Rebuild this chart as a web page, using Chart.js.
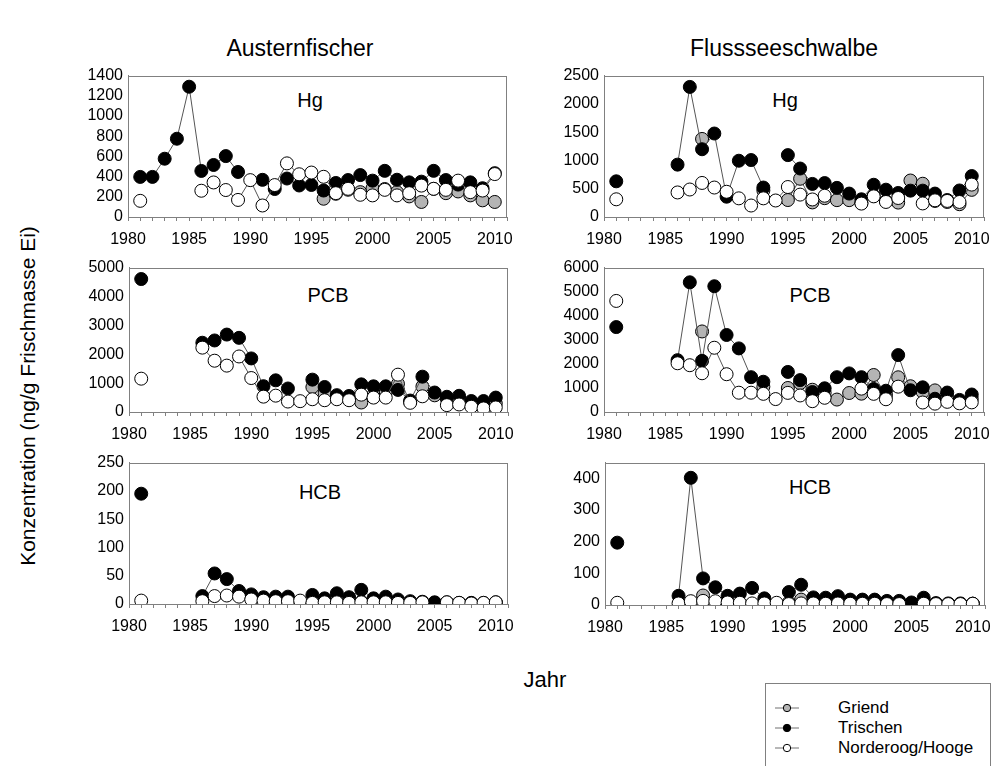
<!DOCTYPE html>
<html>
<head>
<meta charset="utf-8">
<script src="https://cdn.jsdelivr.net/npm/chart.js@4.4.0/dist/chart.umd.min.js"></script>
<style>
  body { margin:0; background:#fff; width:996px; height:766px; position:relative; overflow:hidden;
         font-family:"Liberation Sans", Arial, sans-serif; }
  canvas { position:absolute; }
  .t { position:absolute; color:#000; white-space:nowrap; transform:translate(-50%,-50%); }
  #legend { position:absolute; left:765px; top:683px; width:224px; height:100px;
            border:1px solid #808080; border-bottom:none; }
  .row { position:absolute; left:0; height:20px; font-size:17px; line-height:20px; }
  .row svg { position:absolute; left:9px; top:4px; }
  .row span { position:absolute; left:72px; white-space:nowrap; }
</style>
</head>
<body>

<div class="t" style="left:300px;top:48px;font-size:23px;">Austernfischer</div>
<div class="t" style="left:784px;top:48px;font-size:23px;">Flussseeschwalbe</div>
<div class="t" style="left:28px;top:396px;font-size:21px;transform:translate(-50%,-50%) rotate(-90deg);">Konzentration (ng/g Frischmasse Ei)</div>
<div class="t" style="left:545px;top:680px;font-size:22px;">Jahr</div>

<div class="t" style="left:310px;top:100px;font-size:20px;">Hg</div>
<div class="t" style="left:785px;top:100px;font-size:20px;">Hg</div>
<div class="t" style="left:328px;top:295px;font-size:20px;">PCB</div>
<div class="t" style="left:810px;top:295px;font-size:20px;">PCB</div>
<div class="t" style="left:320px;top:492px;font-size:20px;">HCB</div>
<div class="t" style="left:810px;top:487px;font-size:20px;">HCB</div>

<canvas id="cA"></canvas>
<canvas id="cB"></canvas>
<canvas id="cC"></canvas>
<canvas id="cD"></canvas>
<canvas id="cE"></canvas>
<canvas id="cF"></canvas>

<div id="legend">
  <div class="row" style="top:14px;">
    <svg width="24" height="12"><line x1="0" y1="6" x2="24" y2="6" stroke="#707070" stroke-width="1"/><circle cx="12" cy="6" r="3.7" fill="#b4b4b4" stroke="#000" stroke-width="1"/></svg>
    <span>Griend</span>
  </div>
  <div class="row" style="top:34px;">
    <svg width="24" height="12"><line x1="0" y1="6" x2="24" y2="6" stroke="#707070" stroke-width="1"/><circle cx="12" cy="6" r="3.7" fill="#000" stroke="#000" stroke-width="1"/></svg>
    <span>Trischen</span>
  </div>
  <div class="row" style="top:54px;">
    <svg width="24" height="12"><line x1="0" y1="6" x2="24" y2="6" stroke="#707070" stroke-width="1"/><circle cx="12" cy="6" r="3.7" fill="#fff" stroke="#000" stroke-width="1"/></svg>
    <span>Norderoog/Hooge</span>
  </div>
</div>

<script>
// Jahre 1981-2010 (null = keine Probe)
const years = [1981,1982,1983,1984,1985,1986,1987,1988,1989,1990,
               1991,1992,1993,1994,1995,1996,1997,1998,1999,2000,
               2001,2002,2003,2004,2005,2006,2007,2008,2009,2010];
const n = null;

// Austernfischer Hg
const hgAusTrischen = [397,397,577,775,1290,456,515,603,446,n,368,277,381,312,317,262,337,366,415,360,457,369,343,350,457,366,321,343,285,434];
const hgAusGriend   = [n,n,n,n,n,n,n,n,n,n,n,n,n,n,n,181,230,270,246,285,277,246,204,149,279,236,253,214,165,149];
const hgAusNorder   = [160,n,n,n,n,260,342,267,169,365,114,316,531,423,440,398,236,279,220,214,269,214,236,311,279,269,360,246,262,425];

// Flussseeschwalbe Hg
const hgFluTrischen = [631,n,n,n,n,926,2300,1198,1476,359,995,1007,521,n,1094,857,585,600,515,414,313,570,483,425,466,466,414,300,469,724];
const hgFluGriend   = [n,n,n,n,n,n,n,1380,n,n,n,n,470,n,300,676,258,333,298,298,250,380,280,255,645,588,284,266,226,480];
const hgFluNorder   = [313,n,n,n,n,434,486,602,521,446,330,203,330,292,530,396,310,376,n,n,237,365,266,336,n,240,295,284,266,573];

// Austernfischer PCB
const pcbAusTrischen = [4604,n,n,n,n,2398,2477,2681,2568,1855,894,1097,814,n,1121,866,583,555,957,889,889,765,397,1223,674,527,561,380,380,499];
const pcbAusGriend   = [n,n,n,n,n,n,n,n,n,n,n,n,n,n,862,658,500,470,329,600,692,975,350,884,578,450,450,300,250,300];
const pcbAusNorder   = [1154,n,n,n,n,2229,1776,1606,1923,1176,532,566,362,375,442,408,442,408,601,499,499,1293,318,544,n,238,261,181,125,159];

// Flussseeschwalbe PCB
const pcbFluTrischen = [3529,n,n,n,n,2154,5389,2126,5226,3200,2643,1447,1257,n,1665,1325,829,985,1447,1604,1447,958,884,2365,904,1026,551,808,503,727];
const pcbFluGriend   = [n,n,n,n,n,n,n,3347,n,n,n,n,1050,n,998,1200,925,800,517,789,762,1537,700,1442,1070,830,898,600,450,550];
const pcbFluNorder   = [4615,n,n,n,n,2025,1944,1610,2670,1570,802,802,755,537,795,687,449,591,n,n,971,755,530,1053,n,395,347,422,360,400];

// Austernfischer HCB
const hcbAusTrischen = [195,n,n,n,n,14,54,44,23,17,12,13,13,n,16,10,19,12,25,10,13,8,5,4,3,3,2,2,2,3];
const hcbAusGriend   = [n,n,n,n,n,n,n,n,n,n,n,n,n,n,3,4,3,3,4,3,3,2,2,2,2,2,2,1,1,2];
const hcbAusNorder   = [6,n,n,n,n,5,14,15,13,8,6,5,5,6,2,3,3,2,3,3,3,2,2,3,n,3,2,1,2,3];

// Flussseeschwalbe HCB
const hcbFluTrischen = [197,n,n,n,n,29,402,84,56,29,36,54,21,n,41,64,24,23,28,17,17,17,13,13,8,23,6,5,5,4];
const hcbFluGriend   = [n,n,n,n,n,n,n,30,n,n,n,n,8,n,8,17,6,5,5,5,5,4,4,4,4,5,4,3,3,4];
const hcbFluNorder   = [7,n,n,n,n,5,12,13,12,8,7,5,5,7,3,5,5,4,5,4,4,4,3,3,n,4,3,3,3,4];

const font = { family: '"Liberation Sans", Arial, sans-serif', size: 16 };
const axisGrey = '#808080';

// Rahmen um die Zeichenfläche
const framePlugin = {
    id: 'frame',
    afterDraw(chart) {
        const a = chart.chartArea, ctx = chart.ctx;
        ctx.save();
        ctx.strokeStyle = axisGrey;
        ctx.lineWidth = 1;
        ctx.strokeRect(Math.round(a.left) + 0.5, Math.round(a.top) + 0.5,
                       Math.round(a.right - a.left) - 1, Math.round(a.bottom - a.top));
        ctx.restore();
    }
};

function series(values, fill, order) {
    return {
        data: years.map((y, i) => ({ x: y, y: values[i] })),
        borderColor: '#555',
        borderWidth: 1,
        pointRadius: 6.5,
        pointBorderWidth: 1,
        pointBorderColor: '#000',
        pointBackgroundColor: fill,
        spanGaps: false,
        order: order
    };
}

function panel(id, box, yMax, yStep, griend, trischen, norder) {
    const cv = document.getElementById(id);
    const w = (box.r - box.l) + 75 + 10;
    const h = (box.b - box.t) + 12 + 40;
    cv.width = w; cv.height = h;
    cv.style.left = (box.l - 75) + 'px';
    cv.style.top = (box.t - 12) + 'px';
    cv.style.width = w + 'px';
    cv.style.height = h + 'px';
    const yTop = Math.floor(yMax / yStep) * yStep;

    new Chart(cv.getContext('2d'), {
        type: 'line',
        data: {
            datasets: [
                series(norder, '#ffffff', 1),
                series(trischen, '#000000', 2),
                series(griend, '#b4b4b4', 3)
            ]
        },
        options: {
            responsive: false,
            animation: false,
            events: [],
            layout: { padding: { top: 12, right: 10, left: 0, bottom: 0 } },
            plugins: { legend: { display: false }, tooltip: { enabled: false } },
            scales: {
                x: {
                    type: 'linear', min: 1980, max: 2011,
                    afterFit(s) { s.height = 40; },
                    afterBuildTicks(s) {
                        const t = [];
                        for (let y = 1980; y <= 2011; y++) t.push({ value: y });
                        s.ticks = t;
                    },
                    ticks: {
                        autoSkip: false, maxRotation: 0, padding: 9, color: '#000', font: font,
                        callback: v => (v % 5 === 0 && v < 2011) ? String(v) : ''
                    },
                    grid: { drawOnChartArea: false, drawTicks: true, tickLength: 4, color: axisGrey },
                    border: { color: axisGrey }
                },
                y: {
                    min: 0, max: yMax,
                    afterFit(s) { s.width = 75; },
                    afterBuildTicks(s) {
                        const t = [];
                        for (let v = 0; v <= yTop; v += yStep) t.push({ value: v });
                        s.ticks = t;
                    },
                    ticks: {
                        autoSkip: false, padding: 5, color: '#000', font: font,
                        callback: v => String(v)
                    },
                    grid: { drawOnChartArea: false, drawTicks: false },
                    border: { color: axisGrey }
                }
            }
        },
        plugins: [framePlugin]
    });
}

window.onload = function() {
    panel('cA', { l:128, r:507, t:73,  b:217 }, 1400, 200, hgAusGriend,  hgAusTrischen,  hgAusNorder);
    panel('cB', { l:604, r:984, t:73,  b:217 }, 2500, 500, hgFluGriend,  hgFluTrischen,  hgFluNorder);
    panel('cC', { l:129, r:508, t:265, b:412 }, 5000, 1000, pcbAusGriend, pcbAusTrischen, pcbAusNorder);
    panel('cD', { l:604, r:984, t:265, b:412 }, 6000, 1000, pcbFluGriend, pcbFluTrischen, pcbFluNorder);
    panel('cE', { l:129, r:508, t:460, b:604 }, 250, 50,   hcbAusGriend, hcbAusTrischen, hcbAusNorder);
    panel('cF', { l:605, r:985, t:460, b:605 }, 450, 100,  hcbFluGriend, hcbFluTrischen, hcbFluNorder);
};
</script>
</body>
</html>
